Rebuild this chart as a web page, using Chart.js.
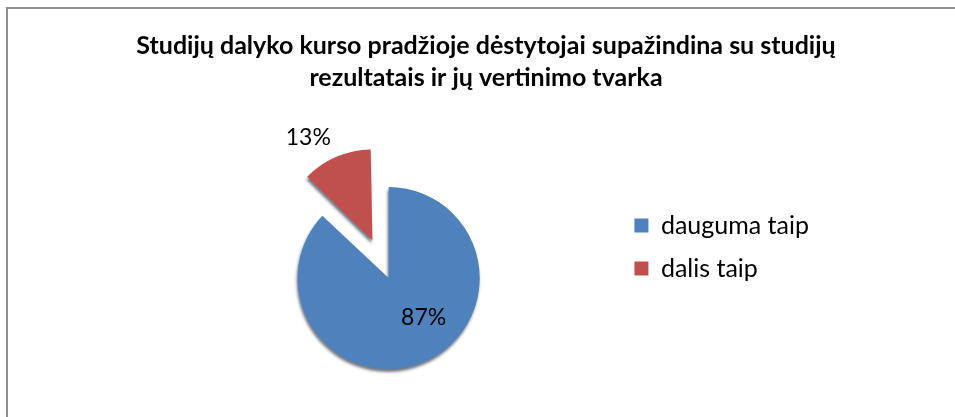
<!DOCTYPE html>
<html>
<head>
<meta charset="utf-8">
<script src="https://cdn.jsdelivr.net/npm/chart.js@4/dist/chart.umd.min.js"></script>
<style>
    html, body { margin: 0; padding: 0; background: #fff; overflow: hidden; }
    #frame {
        position: absolute;
        left: 6px;
        top: 7px;
        width: 960px;
        height: 430px;
        border-left: 2px solid #8e8e8e;
        border-top: 2px solid #8e8e8e;
    }
    #pieChart { display: block; }
</style>
</head>
<body>
<div id="frame">
    <canvas id="pieChart" width="956" height="420"></canvas>
</div>
<script>
const titleLines = [
    'Studijų dalyko kurso pradžioje dėstytojai supažindina su studijų',
    'rezultatais ir jų vertinimo tvarka'
];
const categories = ['dauguma taip', 'dalis taip'];
const shares = [87, 13];

const sliceColors = ['#4F81BD', '#C0504D'];

// shadow under the slices + percent labels, roughly like the office chart
const pieStyle = {
    id: 'pieStyle',
    afterLayout(chart) {
        // title centred on the whole canvas, not squeezed by the side padding
        const t = chart.titleBlock;
        if (t) {
            t.left = 0;
            t.right = chart.width;
            t.width = chart.width;
        }
    },
    afterDatasetUpdate(chart, args) {
        // keep the pulled-out slice the same size as the rest
        args.meta.data.forEach(arc => {
            const off = (arc.options && arc.options.offset) || 0;
            if (!off) return;
            const fix = 1 - Math.sin(Math.min(Math.PI, arc.circumference));
            arc.outerRadius -= off / 4 * fix;
        });
    },
    beforeDatasetsDraw(chart) {
        const ctx = chart.ctx;
        ctx.save();
        ctx.shadowColor = 'rgba(20, 30, 50, 0.6)';
        ctx.shadowBlur = 3;
        ctx.shadowOffsetX = -1;
        ctx.shadowOffsetY = 3;
    },
    afterDatasetsDraw(chart, args, options) {
        const ctx = chart.ctx;
        ctx.restore();
        const meta = chart.getDatasetMeta(0);
        const R = meta.controller.outerRadius;
        ctx.save();
        ctx.font = options.font;
        ctx.fillStyle = '#000';
        ctx.textAlign = 'center';
        ctx.textBaseline = 'middle';
        meta.data.forEach((arc, i) => {
            const p = arc.getProps(['x', 'y', 'startAngle', 'endAngle'], true);
            const mid = (p.startAngle + p.endAngle) / 2;
            const shift = (arc.options.offset || 0) / 4;
            const cx = p.x + Math.cos(mid) * shift;
            const cy = p.y + Math.sin(mid) * shift;
            const a = mid + options.angleShift[i] * Math.PI / 180;
            const r = R * options.radius[i];
            ctx.fillText(shares[i] + '%', cx + Math.cos(a) * r, cy + Math.sin(a) * r);
        });
        ctx.restore();
    }
};

Chart.register(pieStyle);
Chart.defaults.color = '#000';
Chart.defaults.font.family = 'Lato';

new Chart(document.getElementById('pieChart'), {
    type: 'pie',
    data: {
        labels: categories,
        datasets: [{
            data: shares,
            backgroundColor: sliceColors,
            borderWidth: 0,
            offset: [0, 164],
            hoverOffset: 0,
            radius: 91
        }]
    },
    options: {
        responsive: false,
        animation: false,
        events: [],
        layout: {
            padding: { left: 153, right: 145, top: 0, bottom: 68 }
        },
        plugins: {
            title: {
                display: true,
                text: titleLines,
                color: '#000',
                font: { family: 'Lato', size: 25, weight: 'bold', lineHeight: 32 / 25 },
                padding: { top: 21, bottom: 101 }
            },
            legend: {
                position: 'right',
                align: 'start',
                fullSize: false,
                labels: {
                    boxWidth: 14,
                    boxHeight: 14,
                    padding: 18,
                    color: '#000',
                    font: { family: 'Lato', size: 25 }
                }
            },
            tooltip: { enabled: false },
            pieStyle: {
                font: '23px Lato',
                radius: [0.58, 1.33],
                angleShift: [-18, -8.6]
            }
        }
    }
});
</script>
</body>
</html>
